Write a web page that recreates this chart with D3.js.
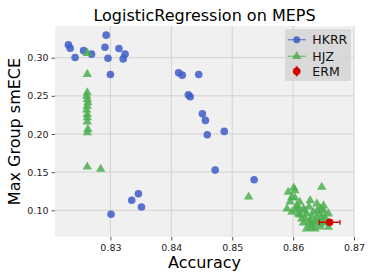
<!DOCTYPE html>
<html>
<head>
<meta charset="utf-8">
<script src="https://cdn.jsdelivr.net/npm/d3@7"></script>
<style>
  body { margin: 0; background: #fff; }
  svg { display: block; font-family: "DejaVu Sans", sans-serif; }
</style>
</head>
<body>
<div id="chart"></div>
<script>
// data
var hkrrAcc = [0.8231, 0.8234, 0.8242, 0.8256, 0.8269, 0.8293, 0.8291, 0.8296, 0.8300, 0.8314, 0.8324, 0.8321,
               0.8412, 0.8418, 0.8445, 0.8428, 0.8431, 0.8451, 0.8456, 0.8459, 0.8487, 0.8472, 0.8536,
               0.8301, 0.8335, 0.8346, 0.8351];
var hkrrEce = [0.3168, 0.3124, 0.3003, 0.3092, 0.3046, 0.3295, 0.3137, 0.2993, 0.2780, 0.3120, 0.3046, 0.2984,
               0.2801, 0.2771, 0.2780, 0.2513, 0.2487, 0.2264, 0.2178, 0.1990, 0.2034, 0.1527, 0.1401,
               0.0948, 0.1131, 0.1217, 0.1043];

var hjzAcc = [0.8262, 0.8262, 0.8262, 0.8261, 0.8262, 0.8263, 0.8262, 0.8261, 0.8262, 0.8262, 0.8262, 0.8263, 0.8262,
              0.8262, 0.8284, 0.8527, 0.8647,
              0.8601, 0.8592, 0.8603, 0.8598, 0.8628, 0.8639, 0.8611, 0.8617, 0.8590, 0.8598, 0.8622, 0.8633,
              0.8650, 0.8652, 0.8628, 0.8636, 0.8644, 0.8622, 0.8636, 0.8658, 0.8614, 0.8609, 0.8606, 0.8620,
              0.8631, 0.8647, 0.8642,
              0.8595, 0.8603, 0.8609, 0.8619, 0.8626, 0.8631, 0.8639, 0.8642, 0.8649, 0.8653, 0.8627, 0.8617,
              0.8611, 0.8604, 0.8629, 0.8645, 0.8658, 0.8645, 0.8650, 0.8640];
var hjzEce = [0.3068, 0.2793, 0.2552, 0.2509, 0.2466, 0.2421, 0.2378, 0.2326, 0.2270, 0.2225, 0.2169, 0.2073, 0.2029,
              0.1580, 0.1550, 0.1187, 0.1314,
              0.1305, 0.1249, 0.1270, 0.1183, 0.1139, 0.1096, 0.1118, 0.1030, 0.1030, 0.0987, 0.0965, 0.0987,
              0.1008, 0.0921, 0.0877, 0.0856, 0.0834, 0.0768, 0.0768, 0.0791, 0.0899, 0.0965, 0.1073, 0.0899,
              0.0812, 0.0921, 0.0965,
              0.1122, 0.1174, 0.1043, 0.1004, 0.1056, 0.0925, 0.0899, 0.0859, 0.0859, 0.0846, 0.0834, 0.0847,
              0.0952, 0.1017, 0.0781, 0.0795, 0.0965, 0.1030, 0.1070, 0.1010];

var ermAcc = [0.8660];
var ermEce = [0.0843];
var ermErr = [0.0017];

var xTicks = [0.83, 0.84, 0.85, 0.86, 0.87];
var yTicks = [0.10, 0.15, 0.20, 0.25, 0.30];
var seriesNames = ["HKRR", "HJZ", "ERM"];

var W = 374, H = 280;
var margin = {top: 26, right: 20, bottom: 43, left: 55},
    width = W - margin.left - margin.right,
    height = H - margin.top - margin.bottom;

var blue = "#3d5cc8", green = "#4caf50", red = "#d40000";

var xScale = d3.scaleLinear().domain([0.8209, 0.87]).range([0, width]);
var yScale = d3.scaleLinear().domain([0.065, 0.3415]).range([height, 0]);

var svg = d3.select("#chart").append("svg")
    .attr("width", W).attr("height", H);

svg.append("text")
    .attr("x", margin.left + width / 2).attr("y", 21)
    .attr("text-anchor", "middle")
    .attr("font-size", 16)
    .text("LogisticRegression on MEPS");

var g = svg.append("g").attr("transform", `translate(${margin.left},${margin.top})`);

g.append("rect").attr("width", width).attr("height", height).attr("fill", "#f0f0f0");

// grid
g.selectAll("line.gx").data(xTicks).enter().append("line")
    .attr("x1", d => xScale(d)).attr("x2", d => xScale(d))
    .attr("y1", 0).attr("y2", height)
    .attr("stroke", "#d2d2d2").attr("stroke-width", 1);
g.selectAll("line.gy").data(yTicks).enter().append("line")
    .attr("y1", d => yScale(d)).attr("y2", d => yScale(d))
    .attr("x1", 0).attr("x2", width)
    .attr("stroke", "#d2d2d2").attr("stroke-width", 1);

var xAxis = d3.axisBottom(xScale).tickValues(xTicks).tickFormat(d3.format(".2f")).tickSize(3.5).tickPadding(4);
var yAxis = d3.axisLeft(yScale).tickValues(yTicks).tickFormat(d3.format(".2f")).tickSize(3.5).tickPadding(3);

var gx = g.append("g").attr("transform", `translate(0,${height})`).call(xAxis);
var gy = g.append("g").call(yAxis);
[gx, gy].forEach(a => {
    a.select(".domain").remove();
    a.selectAll("line").attr("stroke", "#555");
    a.selectAll("text").attr("font-size", 9.5).attr("fill", "#222").attr("font-family", "DejaVu Sans");
});

svg.append("text")
    .attr("x", margin.left + width / 2).attr("y", 268)
    .attr("text-anchor", "middle").attr("font-size", 16)
    .text("Accuracy");
svg.append("text")
    .attr("transform", `translate(20,${margin.top + height / 2}) rotate(-90)`)
    .attr("text-anchor", "middle").attr("font-size", 16)
    .text("Max Group smECE");

var plot = g.append("g");
var tri = d3.symbol().type(d3.symbolTriangle).size(38);

// HKRR
plot.selectAll("circle.hkrr").data(d3.range(hkrrAcc.length)).enter().append("circle")
    .attr("cx", i => xScale(hkrrAcc[i])).attr("cy", i => yScale(hkrrEce[i]))
    .attr("r", 3.8).attr("fill", blue).attr("fill-opacity", 0.85);

// HJZ
plot.selectAll("path.hjz").data(d3.range(hjzAcc.length)).enter().append("path")
    .attr("d", tri)
    .attr("transform", i => `translate(${xScale(hjzAcc[i])},${yScale(hjzEce[i]) + 0.8})`)
    .attr("fill", green).attr("fill-opacity", 0.85);

// ERM with error bar
ermAcc.forEach((a, i) => {
    var y = yScale(ermEce[i]), x0 = xScale(a - ermErr[i]), x1 = xScale(a + ermErr[i]);
    plot.append("line").attr("x1", x0).attr("x2", x1).attr("y1", y).attr("y2", y)
        .attr("stroke", red).attr("stroke-width", 1.5);
    [x0, x1].forEach(x => plot.append("line").attr("x1", x).attr("x2", x)
        .attr("y1", y - 2.5).attr("y2", y + 2.5).attr("stroke", red).attr("stroke-width", 1.2));
    plot.append("circle").attr("cx", xScale(a)).attr("cy", y).attr("r", 3.8).attr("fill", red);
});

// legend
var lg = svg.append("g").attr("transform", "translate(285,29)");
lg.append("rect").attr("width", 66).attr("height", 52).attr("rx", 2)
    .attr("fill", "#d6d6d6").attr("fill-opacity", 0.9);
var rows = [10.7, 27.3, 42.3];
seriesNames.forEach((name, i) => {
    var y = rows[i];
    if (i < 2) {
        var c = i === 0 ? blue : green;
        lg.append("line").attr("x1", 2.7).attr("x2", 20.7).attr("y1", y).attr("y2", y)
            .attr("stroke", c).attr("stroke-opacity", 0.7).attr("stroke-width", 1.3);
        if (i === 0) lg.append("circle").attr("cx", 11.7).attr("cy", y).attr("r", 3.5).attr("fill", c).attr("fill-opacity", 0.85);
        else lg.append("path").attr("d", tri).attr("transform", `translate(11.7,${y})`).attr("fill", c).attr("fill-opacity", 0.85);
    } else {
        lg.append("line").attr("x1", 11.7).attr("x2", 11.7).attr("y1", y - 5).attr("y2", y + 5)
            .attr("stroke", red).attr("stroke-width", 2);
        lg.append("line").attr("x1", 9).attr("x2", 14.4).attr("y1", y).attr("y2", y)
            .attr("stroke", red).attr("stroke-width", 2);
        lg.append("circle").attr("cx", 11.7).attr("cy", y).attr("r", 3.8).attr("fill", red);
    }
    lg.append("text").attr("x", 27.3).attr("y", y + 4.5).attr("font-size", 12.5).attr("fill", "#111").text(name);
});
</script>
</body>
</html>
